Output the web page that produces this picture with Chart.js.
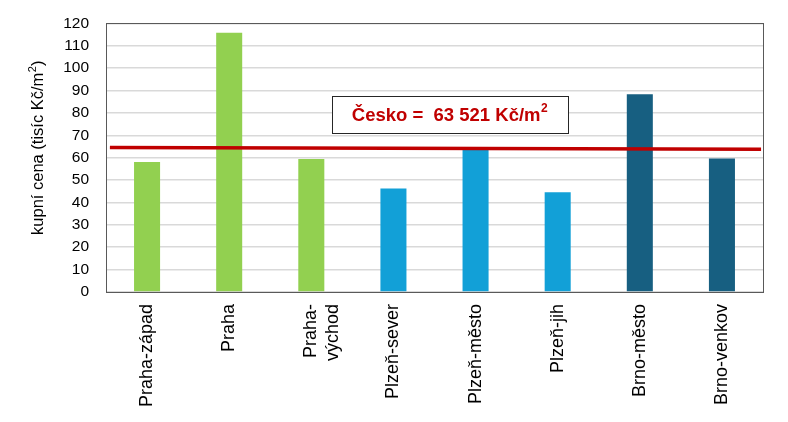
<!DOCTYPE html>
<html>
<head>
<meta charset="utf-8">
<script src="https://cdn.jsdelivr.net/npm/chart.js@4/dist/chart.umd.min.js"></script>
<style>
html,body{margin:0;padding:0;background:#fff;}
#wrap{width:788px;height:422px;}
</style>
</head>
<body>
<div id="wrap"><canvas id="c" width="788" height="422"></canvas></div>
<script>
const categories = ['Praha-západ', 'Praha', ['Praha-', 'východ'], 'Plzeň-sever', 'Plzeň-město', 'Plzeň-jih', 'Brno-město', 'Brno-venkov'];
const prices = [58.1, 115.8, 59.4, 46.2, 64.0, 44.6, 88.3, 59.6];
const barColors = ['#92D050', '#92D050', '#92D050', '#12A0D7', '#12A0D7', '#12A0D7', '#175F81', '#175F81'];
const czAverageEnds = [64.5, 63.8];
const czLabel = 'Česko =  63 521 Kč/m';
const yTitleMain = 'kupní cena (tisíc Kč/m';
const yTitleTail = ')';
const yTicks = [0, 10, 20, 30, 40, 50, 60, 70, 80, 90, 100, 110, 120];

const FONT = "'Liberation Sans', Arial, sans-serif";

const framePlugin = {
  id: 'frame',
  beforeDatasetsDraw(chart) {
    const a = chart.chartArea, ctx = chart.ctx;
    ctx.save();
    ctx.strokeStyle = '#595959';
    ctx.lineWidth = 1;
    ctx.strokeRect(Math.round(a.left) + 0.5, Math.round(a.top) + 0.5, Math.round(a.right - a.left), Math.round(a.bottom - a.top));
    ctx.restore();
  },
  afterDraw(chart) {
    const ctx = chart.ctx;
    ctx.save();
    ctx.translate(38, 148);
    ctx.rotate(-Math.PI / 2);
    ctx.fillStyle = '#000';
    ctx.textBaseline = 'middle';
    ctx.textAlign = 'left';
    ctx.font = "16.5px " + FONT;
    const m1 = ctx.measureText(yTitleMain).width;
    const m3 = ctx.measureText(yTitleTail).width;
    ctx.font = "11px " + FONT;
    const m2 = ctx.measureText('2').width;
    const start = -(m1 + m2 + m3) / 2;
    ctx.font = "16.5px " + FONT;
    ctx.fillText(yTitleMain, start, 0);
    ctx.fillText(yTitleTail, start + m1 + m2 + 0.5, 0);
    ctx.font = "11px " + FONT;
    ctx.fillText('2', start + m1 + 0.3, -5);
    ctx.restore();
  },
  afterDatasetsDraw(chart) {
    const ctx = chart.ctx;
    const x = chart.scales.x, y = chart.scales.y;
    const cx = (x.getPixelForValue(3) + x.getPixelForValue(4)) / 2 + 15;
    const cy = y.getPixelForValue(79.2);
    ctx.save();
    ctx.font = "bold 18.5px " + FONT;
    const w1 = ctx.measureText(czLabel).width;
    ctx.font = "bold 12px " + FONT;
    const w2 = ctx.measureText('2').width;
    const bw = 236, bh = 37;
    const bx = Math.round(cx - bw / 2) + 0.5, by = Math.round(cy - bh / 2) + 0.5;
    ctx.fillStyle = '#ffffff';
    ctx.fillRect(bx, by, bw, bh);
    ctx.strokeStyle = '#262626';
    ctx.lineWidth = 1;
    ctx.strokeRect(bx, by, bw, bh);
    const tx = cx - (w1 + w2) / 2;
    ctx.fillStyle = '#C00000';
    ctx.textBaseline = 'middle';
    ctx.textAlign = 'left';
    ctx.font = "bold 18.5px " + FONT;
    ctx.fillText(czLabel, tx, cy + 1);
    ctx.font = "bold 12px " + FONT;
    ctx.fillText('2', tx + w1 + 0.5, cy - 6);
    ctx.restore();
  }
};

new Chart(document.getElementById('c'), {
  type: 'bar',
  data: {
    labels: categories,
    datasets: [
      {
        type: 'line',
        data: [{x: 0, y: czAverageEnds[0]}, {x: 1, y: czAverageEnds[1]}],
        xAxisID: 'x2',
        borderColor: '#C00000',
        borderWidth: 3.5,
        pointRadius: 0,
        fill: false,
        order: 0
      },
      {
        data: prices,
        backgroundColor: barColors,
        borderWidth: 0,
        grouped: false,
        barPercentage: 0.317,
        categoryPercentage: 1,
        order: 1
      }
    ]
  },
  options: {
    responsive: false,
    animation: false,
    devicePixelRatio: 1,
    layout: { padding: { left: 0, right: 25, top: 23.3, bottom: 0 } },
    plugins: { legend: { display: false }, tooltip: { enabled: false } },
    scales: {
      x: {
        grid: { display: false, drawTicks: false },
        border: { display: false },
        ticks: {
          color: '#000',
          font: { family: FONT, size: 18 },
          maxRotation: 90, minRotation: 90,
          padding: 12,
          autoSkip: false
        },
        afterFit(s) { s.height = 130; }
      },
      x2: {
        type: 'linear',
        display: false,
        offset: false,
        grid: { offset: false },
        min: -0.006,
        max: 1.003
      },
      y: {
        min: 0, max: 120,
        afterBuildTicks(s) { s.ticks = yTicks.map(v => ({ value: v })); },
        grid: { color: '#D9D9D9', lineWidth: 1.5, drawTicks: false },
        border: { display: false },
        ticks: {
          color: '#000',
          font: { family: FONT, size: 15.5 },
          padding: 17
        },
        afterFit(s) { s.width = 106; s.paddingTop = 0; s.paddingBottom = 0; }
      }
    }
  },
  plugins: [framePlugin]
});
</script>
</body>
</html>
